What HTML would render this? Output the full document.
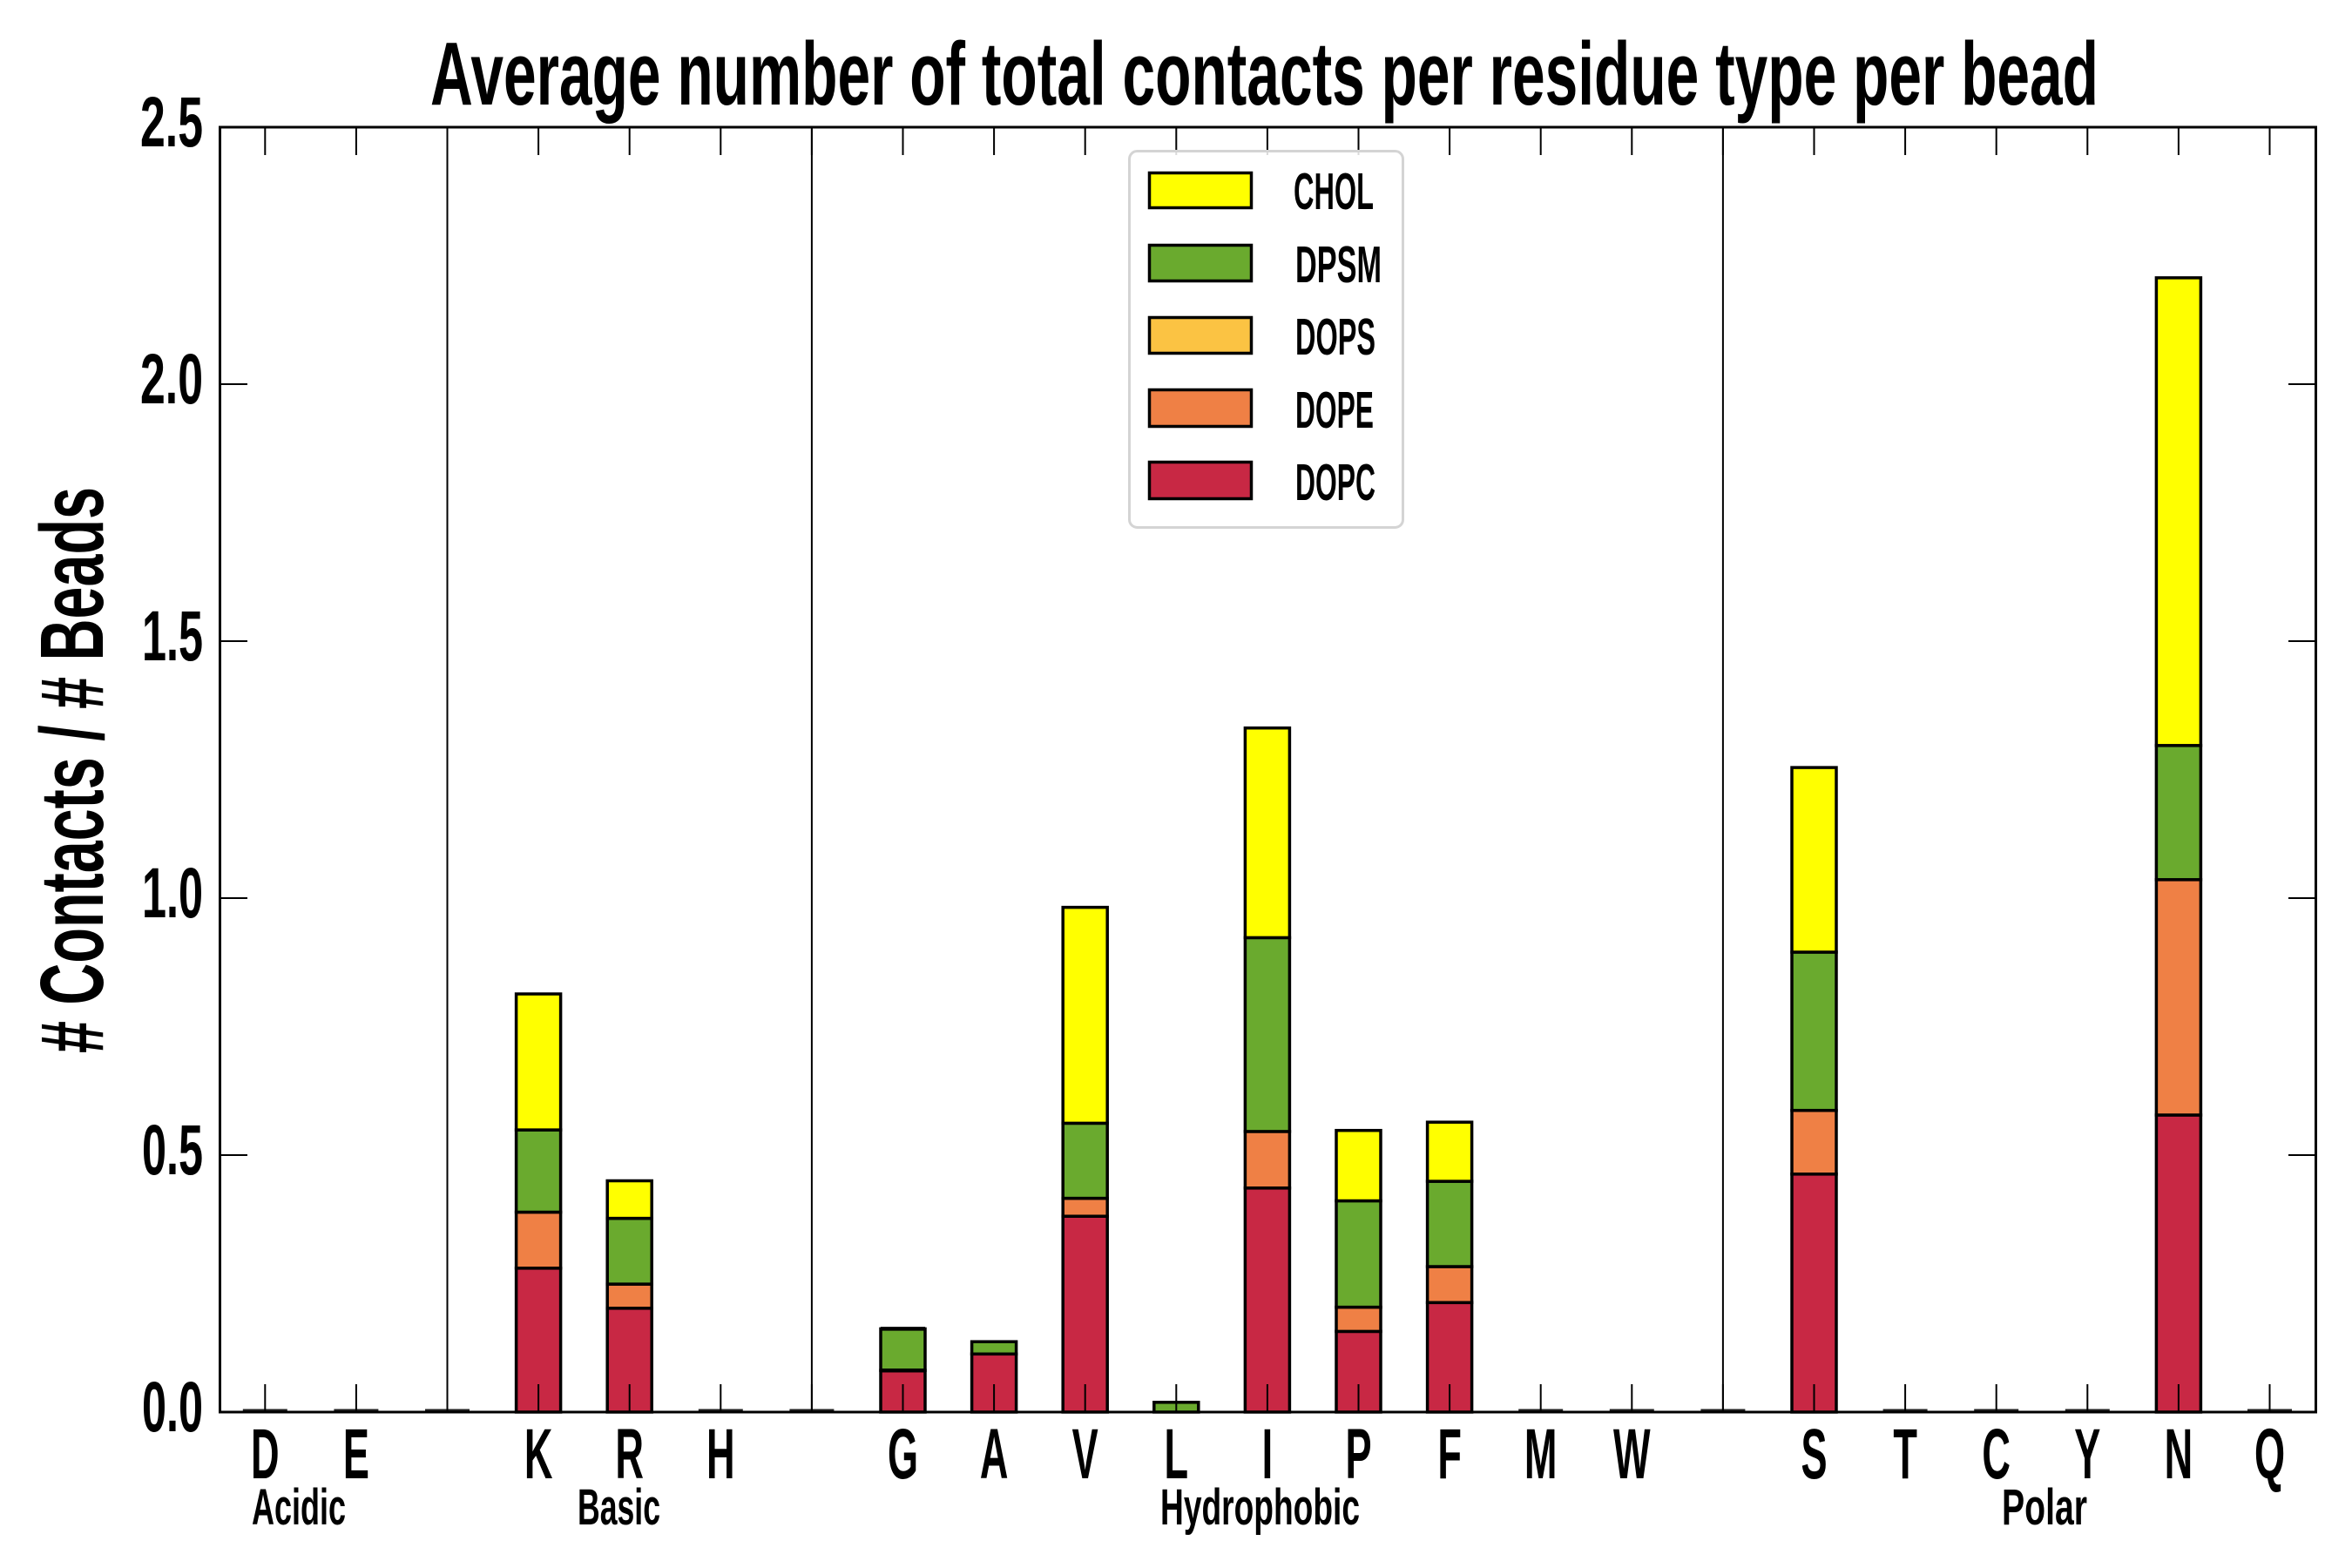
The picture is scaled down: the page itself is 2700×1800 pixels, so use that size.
<!DOCTYPE html>
<html><head><meta charset="utf-8"><style>
html,body{margin:0;padding:0;background:#fff;}
svg{display:block;}
text{font-family:"Liberation Sans",sans-serif;font-weight:bold;fill:#000;}
</style></head><body>
<svg width="2700" height="1800" viewBox="0 0 2700 1800" xmlns="http://www.w3.org/2000/svg">
<rect x="0" y="0" width="2700" height="1800" fill="#fff"/>

<!-- Title -->
<text x="494" y="120" font-size="103" textLength="1915" lengthAdjust="spacingAndGlyphs">Average number of total contacts per residue type per bead</text>

<!-- Y axis label -->
<text transform="translate(118,884) rotate(-90)" font-size="103" text-anchor="middle" textLength="650" lengthAdjust="spacingAndGlyphs"># Contacts / # Beads</text>

<!-- Y tick labels -->
<g font-size="82" text-anchor="end">
<text x="233" y="1643" textLength="70" lengthAdjust="spacingAndGlyphs">0.0</text>
<text x="233" y="1348" textLength="70" lengthAdjust="spacingAndGlyphs">0.5</text>
<text x="233" y="1053" textLength="70" lengthAdjust="spacingAndGlyphs">1.0</text>
<text x="233" y="758" textLength="70" lengthAdjust="spacingAndGlyphs">1.5</text>
<text x="233" y="463" textLength="72" lengthAdjust="spacingAndGlyphs">2.0</text>
<text x="233" y="168" textLength="72" lengthAdjust="spacingAndGlyphs">2.5</text>
</g>

<!-- Bars -->
<g stroke="#000" stroke-width="3.5">
<!-- K -->
<rect x="592.6" y="1455.8" width="51" height="165.2" fill="#c82844"/>
<rect x="592.6" y="1391.5" width="51" height="64.3" fill="#ef8045"/>
<rect x="592.6" y="1297.1" width="51" height="94.4" fill="#6aaa2e"/>
<rect x="592.6" y="1141.0" width="51" height="156.1" fill="#ffff00"/>
<!-- R -->
<rect x="697.2" y="1501.8" width="51" height="119.2" fill="#c82844"/>
<rect x="697.2" y="1474.1" width="51" height="27.7" fill="#ef8045"/>
<rect x="697.2" y="1398.6" width="51" height="75.5" fill="#6aaa2e"/>
<rect x="697.2" y="1355.5" width="51" height="43.1" fill="#ffff00"/>
<!-- G -->
<rect x="1011.0" y="1573.2" width="51" height="47.8" fill="#c82844"/>
<rect x="1011.0" y="1525.4" width="51" height="47.8" fill="#6aaa2e"/>
<line x1="1011" y1="1525.4" x2="1062" y2="1525.4" stroke-width="4.5"/>
<line x1="1011" y1="1573.2" x2="1062" y2="1573.2" stroke-width="4.5"/>
<!-- A -->
<rect x="1115.6" y="1554.3" width="51" height="66.7" fill="#c82844"/>
<rect x="1115.6" y="1540.2" width="51" height="14.1" fill="#6aaa2e"/>
<!-- V -->
<rect x="1220.2" y="1396.2" width="51" height="224.8" fill="#c82844"/>
<rect x="1220.2" y="1375.6" width="51" height="20.6" fill="#ef8045"/>
<rect x="1220.2" y="1289.4" width="51" height="86.2" fill="#6aaa2e"/>
<rect x="1220.2" y="1041.6" width="51" height="247.8" fill="#ffff00"/>
<!-- L -->
<rect x="1324.8" y="1609.8" width="51" height="11.2" fill="#6aaa2e"/>
<!-- I -->
<rect x="1429.4" y="1363.8" width="51" height="257.2" fill="#c82844"/>
<rect x="1429.4" y="1298.9" width="51" height="64.9" fill="#ef8045"/>
<rect x="1429.4" y="1076.4" width="51" height="222.5" fill="#6aaa2e"/>
<rect x="1429.4" y="835.7" width="51" height="240.7" fill="#ffff00"/>
<!-- P -->
<rect x="1534.0" y="1528.4" width="51" height="92.6" fill="#c82844"/>
<rect x="1534.0" y="1500.6" width="51" height="27.8" fill="#ef8045"/>
<rect x="1534.0" y="1378.5" width="51" height="122.1" fill="#6aaa2e"/>
<rect x="1534.0" y="1297.7" width="51" height="80.8" fill="#ffff00"/>
<!-- F -->
<rect x="1638.6" y="1495.3" width="51" height="125.7" fill="#c82844"/>
<rect x="1638.6" y="1454.0" width="51" height="41.3" fill="#ef8045"/>
<rect x="1638.6" y="1356.1" width="51" height="97.9" fill="#6aaa2e"/>
<rect x="1638.6" y="1288.2" width="51" height="67.9" fill="#ffff00"/>
<!-- S -->
<rect x="2057.0" y="1347.8" width="51" height="273.2" fill="#c82844"/>
<rect x="2057.0" y="1274.7" width="51" height="73.1" fill="#ef8045"/>
<rect x="2057.0" y="1093.0" width="51" height="181.7" fill="#6aaa2e"/>
<rect x="2057.0" y="881.1" width="51" height="211.9" fill="#ffff00"/>
<!-- N -->
<rect x="2475.4" y="1280.0" width="51" height="341" fill="#c82844"/>
<rect x="2475.4" y="1009.8" width="51" height="270.2" fill="#ef8045"/>
<rect x="2475.4" y="855.8" width="51" height="154" fill="#6aaa2e"/>
<rect x="2475.4" y="318.9" width="51" height="536.9" fill="#ffff00"/>
</g>

<!-- zero-height bars -->
<g stroke="#222" stroke-width="3">
<line x1="278.8" y1="1619" x2="329.8" y2="1619"/>
<line x1="383.4" y1="1619" x2="434.4" y2="1619"/>
<line x1="488.0" y1="1619" x2="539.0" y2="1619"/>
<line x1="801.8" y1="1619" x2="852.8" y2="1619"/>
<line x1="906.4" y1="1619" x2="957.4" y2="1619"/>
<line x1="1743.2" y1="1619" x2="1794.2" y2="1619"/>
<line x1="1847.8" y1="1619" x2="1898.8" y2="1619"/>
<line x1="1952.4" y1="1619" x2="2003.4" y2="1619"/>
<line x1="2161.6" y1="1619" x2="2212.6" y2="1619"/>
<line x1="2266.2" y1="1619" x2="2317.2" y2="1619"/>
<line x1="2370.8" y1="1619" x2="2421.8" y2="1619"/>
<line x1="2580.0" y1="1619" x2="2631.0" y2="1619"/>
</g>

<!-- Separators -->
<g stroke="#000" stroke-width="2">
<line x1="513.5" y1="146" x2="513.5" y2="1621"/>
<line x1="931.9" y1="146" x2="931.9" y2="1621"/>
<line x1="1977.9" y1="146" x2="1977.9" y2="1621"/>
</g>

<!-- X ticks (bottom & top) -->
<g stroke="#000" stroke-width="2">
<path d="M304.3 1621V1589M408.9 1621V1589M513.5 1621V1589M618.1 1621V1589M722.7 1621V1589M827.3 1621V1589M931.9 1621V1589M1036.5 1621V1589M1141.1 1621V1589M1245.7 1621V1589M1350.3 1621V1589M1454.9 1621V1589M1559.5 1621V1589M1664.1 1621V1589M1768.7 1621V1589M1873.3 1621V1589M1977.9 1621V1589M2082.5 1621V1589M2187.1 1621V1589M2291.7 1621V1589M2396.3 1621V1589M2500.9 1621V1589M2605.5 1621V1589"/>
<path d="M304.3 146V178M408.9 146V178M513.5 146V178M618.1 146V178M722.7 146V178M827.3 146V178M931.9 146V178M1036.5 146V178M1141.1 146V178M1245.7 146V178M1350.3 146V178M1454.9 146V178M1559.5 146V178M1664.1 146V178M1768.7 146V178M1873.3 146V178M1977.9 146V178M2082.5 146V178M2187.1 146V178M2291.7 146V178M2396.3 146V178M2500.9 146V178M2605.5 146V178"/>
<!-- Y ticks left & right -->
<path d="M252 1326H284M252 1031H284M252 736H284M252 441H284"/>
<path d="M2659 1326H2627M2659 1031H2627M2659 736H2627M2659 441H2627"/>
</g>

<!-- Spines -->
<rect x="252.5" y="146" width="2406" height="1475" fill="none" stroke="#000" stroke-width="3"/>

<!-- X tick labels -->
<g font-size="82" text-anchor="middle">
<text transform="translate(304.3,1697) scale(0.55,1)">D</text>
<text transform="translate(408.9,1697) scale(0.55,1)">E</text>
<text transform="translate(618.1,1697) scale(0.55,1)">K</text>
<text transform="translate(722.7,1697) scale(0.55,1)">R</text>
<text transform="translate(827.3,1697) scale(0.55,1)">H</text>
<text transform="translate(1036.5,1697) scale(0.55,1)">G</text>
<text transform="translate(1141.1,1697) scale(0.55,1)">A</text>
<text transform="translate(1245.7,1697) scale(0.55,1)">V</text>
<text transform="translate(1350.3,1697) scale(0.55,1)">L</text>
<text transform="translate(1454.9,1697) scale(0.55,1)">I</text>
<text transform="translate(1559.5,1697) scale(0.55,1)">P</text>
<text transform="translate(1664.1,1697) scale(0.55,1)">F</text>
<text transform="translate(1768.7,1697) scale(0.55,1)">M</text>
<text transform="translate(1873.3,1697) scale(0.55,1)">W</text>
<text transform="translate(2082.5,1697) scale(0.55,1)">S</text>
<text transform="translate(2187.1,1697) scale(0.55,1)">T</text>
<text transform="translate(2291.7,1697) scale(0.55,1)">C</text>
<text transform="translate(2396.3,1697) scale(0.55,1)">Y</text>
<text transform="translate(2500.9,1697) scale(0.55,1)">N</text>
<text transform="translate(2605.5,1697) scale(0.55,1)">Q</text>
</g>

<!-- Group labels -->
<g font-size="58">
<text x="289" y="1750" textLength="108" lengthAdjust="spacingAndGlyphs">Acidic</text>
<text x="663" y="1750" textLength="95" lengthAdjust="spacingAndGlyphs">Basic</text>
<text x="1332" y="1750" textLength="229" lengthAdjust="spacingAndGlyphs">Hydrophobic</text>
<text x="2298" y="1750" textLength="98" lengthAdjust="spacingAndGlyphs">Polar</text>
</g>

<!-- Legend -->
<rect x="1296.5" y="173.5" width="314" height="432" rx="9" ry="9" fill="#fff" fill-opacity="0.85" stroke="#d4d4d4" stroke-width="3"/>
<g stroke="#000" stroke-width="3.5">
<rect x="1319.5" y="198.5" width="117" height="40" fill="#ffff00"/>
<rect x="1319.5" y="281.5" width="117" height="41" fill="#6aaa2e"/>
<rect x="1319.5" y="364.5" width="117" height="41" fill="#fbc343"/>
<rect x="1319.5" y="447.5" width="117" height="42" fill="#ef8045"/>
<rect x="1319.5" y="530.5" width="117" height="42" fill="#c82844"/>
</g>
<g font-size="59">
<text x="1485" y="240" textLength="92" lengthAdjust="spacingAndGlyphs">CHOL</text>
<text x="1487" y="324" textLength="99" lengthAdjust="spacingAndGlyphs">DPSM</text>
<text x="1487" y="407" textLength="92" lengthAdjust="spacingAndGlyphs">DOPS</text>
<text x="1487" y="491" textLength="90" lengthAdjust="spacingAndGlyphs">DOPE</text>
<text x="1487" y="574" textLength="92" lengthAdjust="spacingAndGlyphs">DOPC</text>
</g>
</svg>
</body></html>
